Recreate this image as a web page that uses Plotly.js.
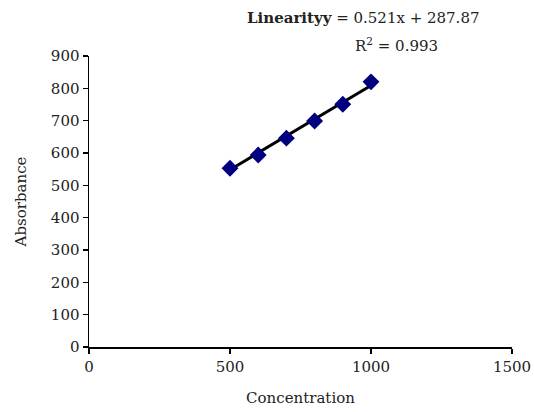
<!DOCTYPE html>
<html>
<head>
<meta charset="utf-8">
<script src="https://cdn.plot.ly/plotly-3.0.1.min.js"></script>
<style>html,body{margin:0;padding:0;background:#fff;}#chart{width:534px;height:412px;}</style>
</head>
<body>
<div id="chart"></div>
<script>
const concentration = [500, 600, 700, 800, 900, 1000];
const absorbance = [553, 594, 646, 699, 751, 820];
const slope = 0.521;
const intercept = 287.87;
const r2 = 0.993;
const xTicks = [0, 500, 1000, 1500];
const yTicks = [0, 100, 200, 300, 400, 500, 600, 700, 800, 900];

const fitX = [concentration[0], concentration[concentration.length - 1]];
const fitY = fitX.map(x => slope * x + intercept);

const font = "DejaVu Serif, Liberation Serif, serif";

const data = [
  {x: fitX, y: fitY, mode: 'lines', line: {color: '#000', width: 3}, hoverinfo: 'skip', showlegend: false},
  {x: concentration, y: absorbance, mode: 'markers', marker: {symbol: 'diamond', size: 13, color: '#00007f'}, showlegend: false}
];

const layout = {
  width: 534, height: 412,
  margin: {l: 89, r: 22, t: 56, b: 65},
  paper_bgcolor: '#fff', plot_bgcolor: '#fff',
  font: {family: font, size: 14, color: '#222'},
  xaxis: {
    range: [0, 1500], tickvals: xTicks, ticktext: xTicks.map(String),
    showgrid: false, zeroline: false, showline: true, linecolor: '#000', linewidth: 1.5,
    ticks: 'outside', ticklen: 5, tickcolor: '#000', tickwidth: 1.5,
    title: {text: 'Concentration', font: {family: font, size: 15, color: '#222'}, standoff: 18},
    tickfont: {family: font, size: 15, color: '#222'}
  },
  yaxis: {
    range: [0, 900], tickvals: yTicks, ticktext: yTicks.map(String),
    showgrid: false, zeroline: false, showline: true, linecolor: '#000', linewidth: 1.5,
    ticks: 'outside', ticklen: 5, tickcolor: '#000', tickwidth: 1.5,
    title: {text: 'Absorbance', font: {family: font, size: 15, color: '#222'}, standoff: 20},
    tickfont: {family: font, size: 15, color: '#222'}
  },
  annotations: [
    {xref: 'paper', yref: 'paper', x: 0.648, y: 1.131, xanchor: 'center', yanchor: 'middle', showarrow: false,
     text: '<b>Linearityy</b> = ' + slope + 'x + ' + intercept, font: {family: font, size: 15, color: '#222'}},
    {xref: 'paper', yref: 'paper', x: 0.728, y: 1.038, xanchor: 'center', yanchor: 'middle', showarrow: false,
     text: 'R<sup>2</sup> = ' + r2, font: {family: font, size: 15, color: '#222'}}
  ]
};

Plotly.newPlot('chart', data, layout, {displayModeBar: false, staticPlot: true});
</script>
</body>
</html>
